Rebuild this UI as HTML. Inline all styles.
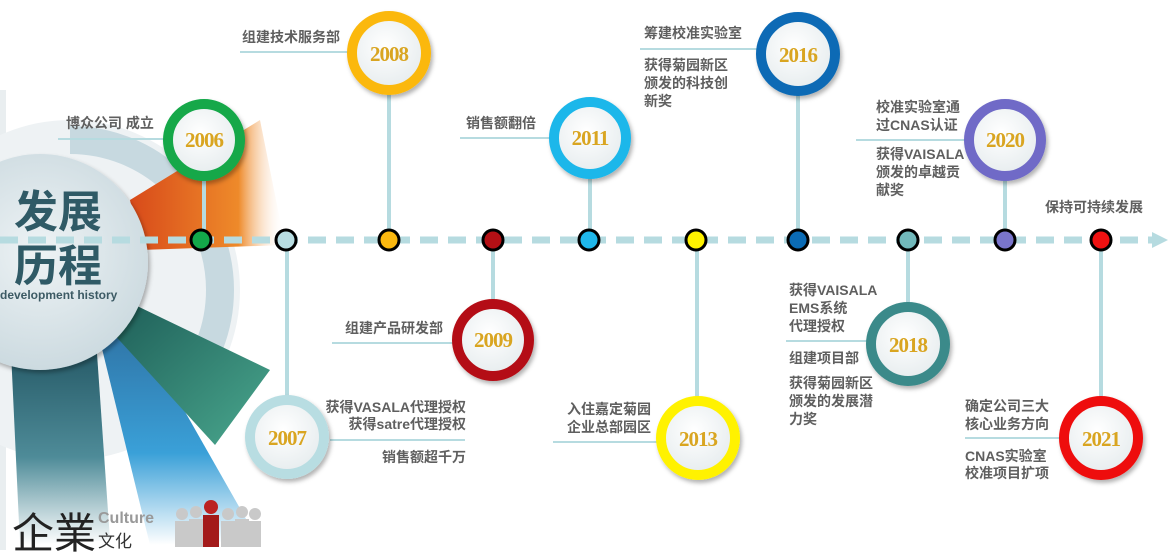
<!DOCTYPE html>
<html><head><meta charset="utf-8"><style>
html,body{margin:0;padding:0;background:#fff;}
svg{display:block}
text{font-family:"Liberation Sans","Noto Sans CJK SC",sans-serif;}
.l text{font-size:14px;font-weight:bold;fill:#5f5f5f;}
text.y{font-size:21px;font-weight:bold;fill:#d9a521;font-family:"Liberation Serif","Noto Serif CJK SC",serif;text-anchor:middle;letter-spacing:-1px;}
</style></head><body>
<svg width="1176" height="558" viewBox="0 0 1176 558" xmlns="http://www.w3.org/2000/svg">
<defs>
<linearGradient id="og" x1="0" y1="0" x2="1" y2="0"><stop offset="0" stop-color="#d84a1a"/><stop offset="0.7" stop-color="#ee8a2a"/><stop offset="1" stop-color="#fff" stop-opacity="0"/></linearGradient>
<linearGradient id="tg" x1="0" y1="0" x2="0" y2="1"><stop offset="0" stop-color="#1d4f5c"/><stop offset="0.6" stop-color="#4e8b98"/><stop offset="1" stop-color="#fff"/></linearGradient>
<linearGradient id="bg" x1="0" y1="0" x2="0" y2="1"><stop offset="0" stop-color="#2e6fa0"/><stop offset="0.6" stop-color="#3aa0d8"/><stop offset="1" stop-color="#fff"/></linearGradient>
<linearGradient id="gg" x1="0" y1="0" x2="1" y2="1"><stop offset="0" stop-color="#1e5e58"/><stop offset="1" stop-color="#4aa88e"/></linearGradient>
<radialGradient id="cg" cx="0.5" cy="0.45" r="0.6"><stop offset="0" stop-color="#eef3f5"/><stop offset="1" stop-color="#c9d8de"/></radialGradient>
<radialGradient id="inner" cx="0.45" cy="0.4" r="0.6"><stop offset="0" stop-color="#ffffff"/><stop offset="1" stop-color="#e6ecee"/></radialGradient>
<filter id="sh" x="-30%" y="-30%" width="160%" height="160%"><feDropShadow dx="2" dy="3" stdDeviation="2" flood-color="#000" flood-opacity="0.3"/></filter>
</defs>
<rect x="0" y="90" width="6" height="460" fill="#e9eef0"/>
<circle cx="70" cy="290" r="170" fill="#eef2f4"/>
<path d="M70 290 m0 -150 a150 150 0 0 1 150 150 a150 150 0 0 1 -40 102" fill="none" stroke="#c7d9e0" stroke-width="28"/>
<polygon points="130,200 260,120 285,245 140,250" fill="url(#og)"/>
<polygon points="10,330 95,325 110,540 20,545" fill="url(#tg)"/>
<polygon points="95,320 130,315 258,540 150,545" fill="url(#bg)"/>
<polygon points="135,305 270,370 215,445 110,330" fill="url(#gg)"/>
<circle cx="40" cy="262" r="108" fill="url(#cg)" filter="url(#sh)"/>
<text x="14" y="227" font-size="44" font-weight="bold" fill="#2f5a66" font-family="'Noto Sans CJK SC',sans-serif">发展</text>
<text x="14" y="281" font-size="44" font-weight="bold" fill="#2f5a66" font-family="'Noto Sans CJK SC',sans-serif">历程</text>
<text x="0" y="299" font-size="12" font-weight="bold" fill="#3c5a64">development history</text>
<text x="12" y="548" font-size="42" fill="#222" font-family="'Noto Serif CJK SC',serif">企業</text>
<text x="98" y="523" font-size="16" fill="#999" font-family="'Liberation Serif',serif" font-weight="bold">Culture</text>
<text x="98" y="547" font-size="17" fill="#333" font-family="'Noto Serif CJK SC',serif">文化</text>
<g fill="#c9c9c9"><circle cx="182" cy="514" r="6"/><rect x="175" y="521" width="14" height="26"/><circle cx="196" cy="512" r="6"/><rect x="189" y="519" width="14" height="28"/><circle cx="228" cy="514" r="6"/><rect x="221" y="521" width="14" height="26"/><circle cx="242" cy="512" r="6"/><rect x="235" y="519" width="14" height="28"/><circle cx="255" cy="514" r="6"/><rect x="249" y="521" width="12" height="26"/></g>
<circle cx="211" cy="507" r="7" fill="#b22"/><rect x="203" y="515" width="16" height="32" fill="#a31a1a"/>

<line x1="0" y1="240" x2="1155" y2="240" stroke="#b6dbe0" stroke-width="7" stroke-dasharray="18,10"/>
<polygon points="1152,232 1168,240 1152,248" fill="#b6dbe0"/>
<g stroke="#b6dbe0" stroke-width="4">
<line x1="204" y1="170" x2="204" y2="240"/><line x1="287" y1="240" x2="287" y2="400"/>
<line x1="389" y1="90" x2="389" y2="240"/><line x1="493" y1="240" x2="493" y2="305"/>
<line x1="590" y1="170" x2="590" y2="240"/><line x1="697" y1="240" x2="697" y2="400"/>
<line x1="798" y1="90" x2="798" y2="240"/><line x1="908" y1="240" x2="908" y2="305"/>
<line x1="1005" y1="170" x2="1005" y2="240"/><line x1="1101" y1="240" x2="1101" y2="400"/>
</g>
<g stroke="#b6dbe0" stroke-width="2">
<line x1="58" y1="139" x2="168" y2="139"/><line x1="240" y1="52" x2="350" y2="52"/>
<line x1="460" y1="138" x2="552" y2="138"/><line x1="640" y1="49" x2="758" y2="49"/>
<line x1="856" y1="140" x2="966" y2="140"/><line x1="332" y1="343" x2="455" y2="343"/>
<line x1="330" y1="440" x2="465" y2="440"/><line x1="553" y1="442" x2="659" y2="442"/>
<line x1="786" y1="341" x2="870" y2="341"/><line x1="965" y1="438" x2="1060" y2="438"/>
</g>
<g stroke="#000" stroke-width="3">
<circle cx="201" cy="240" r="10" fill="#13a84a"/><circle cx="286" cy="240" r="10" fill="#b8dde2"/>
<circle cx="389" cy="240" r="10" fill="#fbb80f"/><circle cx="493" cy="240" r="10" fill="#b41015"/>
<circle cx="589" cy="240" r="10" fill="#1fb7ea"/><circle cx="696" cy="240" r="10" fill="#fff200"/>
<circle cx="798" cy="240" r="10" fill="#0b6bb5"/><circle cx="908" cy="240" r="10" fill="#72b9bb"/>
<circle cx="1005" cy="240" r="10" fill="#7a75cc"/><circle cx="1101" cy="240" r="10" fill="#ee1111"/>
</g>
<g stroke-width="10" filter="url(#sh)" fill="url(#inner)">
<circle cx="204" cy="140" r="36" stroke="#13a84a"/>
<circle cx="389" cy="53" r="37" stroke="#fbb80f"/>
<circle cx="590" cy="138" r="36" stroke="#1fb7ea"/>
<circle cx="798" cy="54" r="37" stroke="#0b6bb5"/>
<circle cx="1005" cy="140" r="36" stroke="#6f6bc7"/>
<circle cx="287" cy="437" r="37" stroke="#b8dde2"/>
<circle cx="493" cy="340" r="36" stroke="#b41015"/>
<circle cx="698" cy="438" r="37" stroke="#fff200"/>
<circle cx="908" cy="344" r="37" stroke="#3a8a8a"/>
<circle cx="1101" cy="438" r="37" stroke="#ee1111"/>
</g>
<text class="y" x="204" y="147">2006</text><text class="y" x="389" y="61">2008</text><text class="y" x="590" y="145">2011</text>
<text class="y" x="798" y="62">2016</text><text class="y" x="1005" y="147">2020</text><text class="y" x="287" y="445">2007</text>
<text class="y" x="493" y="347">2009</text><text class="y" x="698" y="446">2013</text><text class="y" x="908" y="352">2018</text>
<text class="y" x="1101" y="446">2021</text>
<g class="l">
<text x="66" y="128">博众公司 成立</text>
<text x="242" y="42">组建技术服务部</text>
<text x="466" y="128">销售额翻倍</text>
<text x="644" y="38">筹建校准实验室</text>
<text x="644" y="70">获得菊园新区</text><text x="644" y="88">颁发的科技创</text><text x="644" y="106">新奖</text>
<text x="876" y="112">校准实验室通</text><text x="876" y="130">过CNAS认证</text>
<text x="876" y="159">获得VAISALA</text><text x="876" y="177">颁发的卓越贡</text><text x="876" y="195">献奖</text>
<text x="1045" y="212">保持可持续发展</text>
<text x="345" y="333">组建产品研发部</text>
<text x="466" y="412" text-anchor="end">获得VASALA代理授权</text>
<text x="466" y="429" text-anchor="end">获得satre代理授权</text>
<text x="466" y="462" text-anchor="end">销售额超千万</text>
<text x="651" y="414" text-anchor="end">入住嘉定菊园</text><text x="651" y="432" text-anchor="end">企业总部园区</text>
<text x="789" y="295">获得VAISALA</text><text x="789" y="313">EMS系统</text><text x="789" y="331">代理授权</text>
<text x="789" y="363">组建项目部</text>
<text x="789" y="388">获得菊园新区</text><text x="789" y="406">颁发的发展潜</text><text x="789" y="424">力奖</text>
<text x="965" y="411">确定公司三大</text><text x="965" y="429">核心业务方向</text>
<text x="965" y="461">CNAS实验室</text><text x="965" y="478">校准项目扩项</text>
</g>
</svg>
</body></html>
